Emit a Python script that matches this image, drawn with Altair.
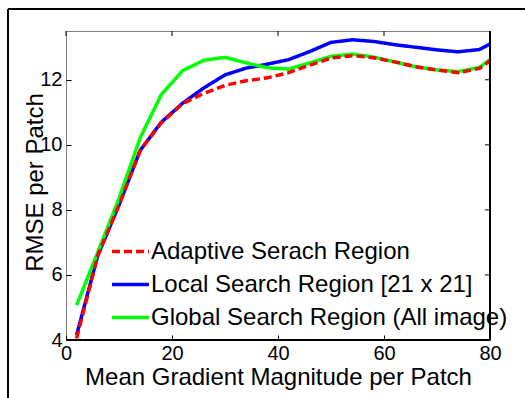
import altair as alt
import pandas as pd

x_vals = [2, 6, 10, 14, 18, 22, 26, 30, 34, 38, 42, 46, 50, 54, 58, 62, 66, 70, 74, 78, 80]
adaptive = [4.05, 6.6, 8.15, 9.83, 10.68, 11.27, 11.58, 11.83, 11.97, 12.06, 12.22, 12.45, 12.67, 12.74, 12.68, 12.55, 12.4, 12.3, 12.22, 12.35, 12.58]
local = [4.15, 6.6, 8.15, 9.83, 10.7, 11.28, 11.75, 12.15, 12.36, 12.48, 12.62, 12.87, 13.15, 13.23, 13.18, 13.08, 13.0, 12.92, 12.86, 12.93, 13.1]
global_ = [5.07, 6.7, 8.35, 10.22, 11.55, 12.28, 12.6, 12.69, 12.52, 12.37, 12.33, 12.52, 12.72, 12.79, 12.7, 12.55, 12.4, 12.3, 12.25, 12.38, 12.62]

names = ["Adaptive Serach Region", "Local Search Region [21 x 21]", "Global Search Region (All image)"]
colors = ["#ff0000", "#0000ff", "#00ff00"]
dashes = [[8, 4], [1, 0], [1, 0]]

x_ticks = [0, 20, 40, 60, 80]
y_ticks = [4, 6, 8, 10, 12]

rows = []
for name, ys in zip(names, [adaptive, local, global_]):
    for xv, yv in zip(x_vals, ys):
        rows.append({"x": xv, "y": yv, "series": name})
df = pd.DataFrame(rows)
xt_df = pd.DataFrame({"x": x_ticks})
yt_df = pd.DataFrame({"y": y_ticks})

FONT = "Liberation Sans"
xscale = alt.Scale(domain=[0, 80], nice=False, zero=False)
yscale = alt.Scale(domain=[4, 13.5], nice=False, zero=False)

x_axis = alt.Axis(values=x_ticks, offset=-5, tickSize=5, domain=False, grid=False,
                  tickColor="black", labelFontSize=20, labelFont=FONT, labelColor="black",
                  labelPadding=3, labelFlush=False, labelOverlap=False,
                  title="Mean Gradient Magnitude per Patch", titleFont=FONT,
                  titleFontSize=24, titleFontWeight="normal", titleColor="black", titlePadding=2)
y_axis = alt.Axis(values=y_ticks, offset=-5, tickSize=5, domain=False, grid=False,
                  tickColor="black", labelFontSize=20, labelFont=FONT, labelColor="black",
                  labelPadding=4, labelFlush=False, labelOverlap=False,
                  title="RMSE per Patch", titleFont=FONT, titleFontSize=24,
                  titleFontWeight="normal", titleColor="black", titleX=-29, titleY=151,
                  titleAlign="center", titleBaseline="alphabetic", titleAngle=-90)

legend = alt.Legend(title=None, orient="none", legendX=44, legendY=200, symbolType="stroke",
                    symbolSize=1369, symbolStrokeWidth=3.5, labelFontSize=24, labelFont=FONT,
                    labelColor="black", labelOffset=0, labelLimit=500, padding=0, rowPadding=0,
                    fillColor=None, strokeColor=None)

color = alt.Color("series:N", scale=alt.Scale(domain=names, range=colors), legend=legend)
dash = alt.StrokeDash("series:N", scale=alt.Scale(domain=names, range=dashes), legend=legend)

frame = alt.Chart(df).mark_rect(fill=None, stroke="black", strokeWidth=1, clip=False).encode(
    x=alt.value(-58), y=alt.value(-22), x2=alt.value(800), y2=alt.value(800))

def line(name):
    return alt.Chart(df).transform_filter(alt.datum.series == name).mark_line(
        strokeWidth=3.5, clip=True).encode(
        x=alt.X("x:Q", scale=xscale, axis=x_axis),
        y=alt.Y("y:Q", scale=yscale, axis=y_axis),
        color=color, strokeDash=dash)

top_ticks = alt.Chart(xt_df).mark_rule(color="black", strokeWidth=1).encode(
    x=alt.X("x:Q", scale=xscale, axis=x_axis), y=alt.value(0), y2=alt.value(5))
right_ticks = alt.Chart(yt_df).mark_rule(color="black", strokeWidth=1).encode(
    y=alt.Y("y:Q", scale=yscale, axis=y_axis), x=alt.value(419), x2=alt.value(424))

edge_b = alt.Chart(df).mark_rule(color="black", strokeWidth=1).encode(
    x=alt.value(0), x2=alt.value(424), y=alt.value(309))
edge_r = alt.Chart(df).mark_rule(color="black", strokeWidth=1).encode(
    x=alt.value(424), y=alt.value(0), y2=alt.value(309))

chart = alt.layer(
    frame, line(names[1]), line(names[2]), line(names[0]), top_ticks, right_ticks, edge_b, edge_r
).properties(
    width=424, height=309,
    autosize=alt.AutoSizeParams(type="none"),
    padding={"left": 66, "top": 31, "right": 35, "bottom": 58},
    background="white",
).configure_view(stroke="#808080", strokeWidth=1)

chart.save("out.html", embed_options={"renderer": "svg", "actions": False})
